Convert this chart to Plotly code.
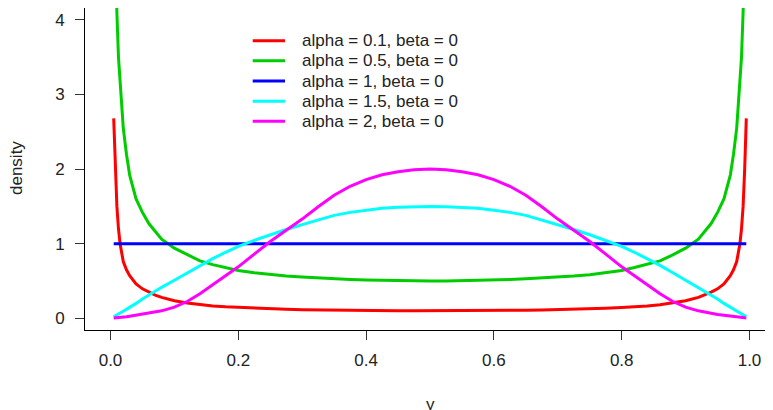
#!/usr/bin/env python3
"""
Density curves for several alpha values (beta = 0) on the unit interval.
"""

import plotly.graph_objects as go

# y grid (shared by all curves)
y_grid = [0.005, 0.0075, 0.01, 0.0125, 0.015, 0.02, 0.025, 0.03, 0.04, 0.05, 0.06, 0.07, 0.08, 0.1,
          0.12, 0.14, 0.16, 0.18, 0.2, 0.225, 0.25, 0.275, 0.3, 0.325, 0.35, 0.375, 0.4, 0.425, 0.45,
          0.475, 0.5,
          0.525, 0.55, 0.575, 0.6, 0.625, 0.65, 0.675, 0.7, 0.725, 0.75, 0.775, 0.8, 0.82, 0.84,
          0.86, 0.88, 0.9, 0.92, 0.93, 0.94, 0.95, 0.96, 0.97, 0.975, 0.98, 0.985, 0.9875, 0.99,
          0.9925, 0.995]

# densities
dens_a01 = [2.68, 2.0, 1.5, 1.2, 1.0, 0.76, 0.65, 0.57, 0.46, 0.395, 0.35, 0.31, 0.28, 0.235,
            0.205, 0.181, 0.165, 0.154, 0.146, 0.136, 0.128, 0.121, 0.116, 0.112, 0.108, 0.105, 0.103,
            0.102, 0.101, 0.1, 0.1,
            0.1, 0.101, 0.102, 0.103, 0.105, 0.108, 0.112, 0.116, 0.121, 0.128, 0.136, 0.146, 0.154,
            0.165, 0.181, 0.205, 0.235, 0.28, 0.31, 0.35, 0.395, 0.46, 0.57, 0.65, 0.76, 1.0, 1.2,
            1.5, 2.0, 2.68]
dens_a05 = [6.0, 4.8, 4.1, 3.5, 3.15, 2.55, 2.2, 1.92, 1.6, 1.42, 1.27, 1.17, 1.06, 0.94,
            0.85, 0.77, 0.72, 0.68, 0.64, 0.61, 0.585, 0.567, 0.553, 0.54, 0.53, 0.521, 0.514,
            0.508, 0.504, 0.501, 0.5,
            0.501, 0.504, 0.508, 0.514, 0.521, 0.53, 0.54, 0.553, 0.567, 0.585, 0.61, 0.64, 0.68,
            0.72, 0.77, 0.85, 0.94, 1.06, 1.17, 1.27, 1.42, 1.6, 1.92, 2.2, 2.55, 3.15, 3.5,
            4.1, 4.8, 6.0]
dens_a1 = [1.0] * len(y_grid)
dens_a15 = [0.02, 0.03, 0.045, 0.057, 0.07, 0.095, 0.12, 0.15, 0.2, 0.26, 0.315, 0.365, 0.415, 0.51,
            0.61, 0.71, 0.8, 0.885, 0.965, 1.045, 1.12, 1.19, 1.255, 1.32, 1.38, 1.42, 1.45,
            1.475, 1.49, 1.497, 1.5,
            1.497, 1.49, 1.475, 1.45, 1.42, 1.38, 1.32, 1.255, 1.19, 1.12, 1.045, 0.965, 0.885,
            0.8, 0.71, 0.61, 0.51, 0.415, 0.365, 0.315, 0.26, 0.2, 0.15, 0.12, 0.095, 0.07, 0.057,
            0.045, 0.03, 0.02]
dens_a2 = [0.005, 0.006, 0.008, 0.01, 0.012, 0.016, 0.021, 0.027, 0.04, 0.052, 0.066, 0.082, 0.1, 0.15,
           0.225, 0.33, 0.45, 0.57, 0.69, 0.86, 1.03, 1.18, 1.33, 1.495, 1.65, 1.77, 1.86,
           1.925, 1.965, 1.99, 2.0,
           1.99, 1.965, 1.925, 1.86, 1.77, 1.65, 1.495, 1.33, 1.18, 1.03, 0.86, 0.69, 0.57,
           0.45, 0.33, 0.225, 0.15, 0.1, 0.082, 0.066, 0.052, 0.04, 0.027, 0.021, 0.016, 0.012, 0.01,
           0.008, 0.006, 0.005]

labels = ["alpha = 0.1, beta = 0", "alpha = 0.5, beta = 0", "alpha = 1, beta = 0",
          "alpha = 1.5, beta = 0", "alpha = 2, beta = 0"]
colors = ["#FF0000", "#00CD00", "#0000FF", "#00FFFF", "#FF00FF"]

x_ticks = [0.0, 0.2, 0.4, 0.6, 0.8, 1.0]
y_ticks = [0, 1, 2, 3, 4]

FONT = "Liberation Sans, Arial, Helvetica, sans-serif"

# page has an 8px body margin, so the figure is a bit smaller than the window
WIDTH, HEIGHT = 765, 402
M_L, M_T, M_B = 77, 0, 80
PLOT_W, PLOT_H = WIDTH - M_L, HEIGHT - M_T - M_B


def px_to_paper(sx, sy):
    """Screen pixel (window coordinates) to paper coordinates."""
    return (sx - 8 - M_L) / PLOT_W, 1 - (sy - 8 - M_T) / PLOT_H


def create_figure():
    """Build the density figure."""
    fig = go.Figure()

    for dens, name, color in zip([dens_a01, dens_a05, dens_a1, dens_a15, dens_a2], labels, colors):
        fig.add_trace(
            go.Scatter(x=y_grid, y=dens, name=name, mode="lines", line=dict(color=color, width=3))
        )

    axis_common = dict(
        showgrid=False, zeroline=False, showline=True, linecolor="black", linewidth=1,
        ticks="outside", ticklen=9, tickcolor="#333333", tickwidth=1,
        tickfont=dict(size=17, color="#222222"),
    )

    # hand-drawn legend (R style: box-less, tight rows)
    shapes, annotations = [], []
    for i, (name, color) in enumerate(zip(labels, colors)):
        row_y = 40.7 + i * 20.15
        x0, y0 = px_to_paper(252.7, row_y)
        x1, _ = px_to_paper(285, row_y)
        xt, _ = px_to_paper(300, row_y)
        shapes.append(dict(type="line", xref="paper", yref="paper", x0=x0, x1=x1, y0=y0, y1=y0,
                           line=dict(color=color, width=3)))
        annotations.append(dict(text=name, xref="paper", yref="paper", x=xt, y=y0, xanchor="left",
                                yanchor="middle", showarrow=False, font=dict(size=17)))

    dx, dy = px_to_paper(16, 168)
    annotations.append(dict(text="density", xref="paper", yref="paper", x=dx, y=dy, textangle=-90,
                            xanchor="center", yanchor="middle", showarrow=False, font=dict(size=17)))
    # the reference has this label right at the bottom edge of the page
    yx, yy = px_to_paper(430, 404)
    annotations.append(dict(text="y", xref="paper", yref="paper", x=yx, y=yy, xanchor="center",
                            yanchor="middle", showarrow=False, font=dict(size=17)))

    fig.update_layout(
        width=WIDTH,
        height=HEIGHT,
        margin=dict(l=M_L, r=0, t=M_T, b=M_B, pad=0),
        plot_bgcolor="white",
        paper_bgcolor="white",
        font=dict(family=FONT, size=17, color="#222222"),
        xaxis=dict(range=[-0.0399, 1.0368], tickvals=x_ticks, tickformat=".1f", mirror=True,
                   ticklabelstandoff=6, **axis_common),
        yaxis=dict(range=[-0.157, 4.16], tickvals=y_ticks, ticklabelstandoff=7, **axis_common),
        showlegend=False,
        shapes=shapes,
        annotations=annotations,
    )
    return fig


def main():
    fig = create_figure()
    fig.write_html("out.html")


if __name__ == "__main__":
    main()
